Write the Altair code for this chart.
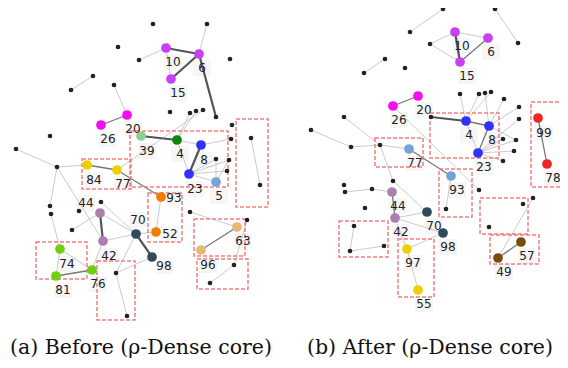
import altair as alt
import pandas as pd

# ---- node data (pixel layout positions) ----
node_keys = ["L10","L6","L15","L20","L26","L39","L4","L8","L23","L5","L84","L77","L93","L52",
             "L44","L42","L70","L98","L74","L81","L76","L63","L96",
             "R10","R6","R15","R20","R26","R4","R8","R23","R77","R93","R99","R78",
             "R44","R42","R70","R98","R97","R55","R57","R49"]
node_x = [166,199,171,127,101,141,177,201,189,216,87,117,161,156,
          100,103,136,152,60,56,92,237,201,
          455,488,460,418,393,466,489,478,409,451,538,547,
          392,395,427,443,407,418,521,498]
node_y = [48,54,79,115,125,136,140,145,174,182,165,170,197,232,
          213,241,234,257,249,276,270,227,250,
          32,38,62,96,106,121,126,153,149,176,118,164,
          192,218,212,233,249,290,242,258]
node_color = ["#c940f2","#c940f2","#c940f2","#f50cf0","#f50cf0","#8fcf8f","#0a8a0a","#3030ff","#3030ff","#74a3d8",
              "#eed000","#eed000","#f57c00","#f57c00",
              "#ad7fae","#ad7fae","#2f4a5a","#2f4a5a","#6fcf14","#6fcf14","#6fcf14","#e8b872","#e8b872",
              "#c940f2","#c940f2","#c940f2","#f50cf0","#f50cf0","#3030ff","#3030ff","#3030ff","#74a3d8","#74a3d8",
              "#f02424","#f02424","#ad7fae","#ad7fae","#2f4a5a","#2f4a5a","#eed000","#eed000","#7a4a0a","#7a4a0a"]
node_label = ["10","6","15","20","26","39","4","8","23","5","84","77","93","52",
              "44","42","70","98","74","81","76","63","96",
              "10","6","15","20","26","4","8","23","77","93","99","78",
              "44","42","70","98","97","55","57","49"]
label_x = [173,202,178,133,108,147,180,204,195,219,94,123,174,170,
           86,109,138,164,67,63,98,243,208,
           462,491,467,424,399,469,492,484,415,457,544,553,
           398,401,434,448,413,424,527,504]
label_y = [62,68,93,129,139,151,154,160,189,196,180,184,198,234,
           203,256,220,266,264,290,284,241,265,
           46,52,76,110,120,135,140,167,163,190,133,178,
           206,232,226,247,263,304,256,272]

dot_keys = ["a1","a2","a3","a4","a5","a6","a7","a8","a9","a10","a11","a12","a13","a14","a15","a16",
            "a17","a18","a19","a20","a21","a22","a23","a24","a25","a26","a27","a28","a29","a30",
            "a31","a32","a33","a34",
            "b1","b2","b3","b4","b5","b6","b7","b8","b9","b10","b11","b12","b13","b14","b15","b16",
            "b17","b18","b19","b20","b21","b22","b23","b24","b25","b26","b27","b28","b29","b30",
            "b31","b32","b33","b34","b35","b36","b37"]
dot_x = [153,207,118,139,230,93,71,114,216,170,190,196,203,50,16,57,
         232,231,251,216,229,227,260,101,79,72,50,51,116,127,
         190,247,234,210,
         443,410,495,518,430,385,364,405,344,311,351,380,431,460,479,485,
         491,504,519,519,503,516,514,503,446,479,344,345,372,393,
         365,354,350,384,523,489,533]
dot_y = [24,24,47,60,59,76,90,85,117,112,113,111,110,136,149,167,
         125,139,138,159,160,171,185,202,211,230,206,214,273,316,
         212,220,265,283,
         9,32,9,43,44,59,73,68,117,130,147,145,117,94,94,93,
         92,99,107,119,139,140,151,161,209,190,185,192,189,181,
         208,226,251,246,204,227,198]

# edges: (from, to, weight 0 thin / 1 medium / 2 thick)
edge_from = ["L10","L6","L10","L6","a2","a4","a6","a8","L20","L39","L4","L4","L8","L8","a12","a13","a11",
             "L23","L23","L23","L23","L5","L5","a19","a15","a16","L84","L77","a16","a28","a16",
             "L44","a24","a26","L44","L42","L42","L74","L74","L81","L70","L70","L93","L70","L98","a29",
             "a31","L63","a32","a33",
             "b1","b3","R10","R10","R6","b5","b5","b6","R20","b13","R4","R8","R4",
             "R4","R4","R4","R8","R8","R8","R23","R23","R23","R23","R23","R8","R99",
             "b9","b10","b11","b12","b12","R77","R93","R26","b28","b29","b30","R44","R42","R42","R42","R98","R97",
             "b32","b33","b37","R49"]
edge_to = ["L6","L15","L15","a9","L6","L10","a7","L20","L26","L4","L8","L23","L23","a18","L4","L77","L4",
           "a20","a21","a22","L5","a20","a21","a23","a16","L84","L77","L93","a27","L74","L42",
           "L42","L70","L44","L70","L70","L76","L81","L76","L76","L98","L52","L52","a29","a29","a30",
           "L63","L96","a33","a34",
           "b2","b4","R6","R15","R15","R10","R15","b7","R26","R4","R8","R23","R23",
           "b14","b15","b17","b16","b18","b19","b20","b21","b22","b23","b24","b22","R78",
           "b12","b11","b12","R77","b30","R93","b25","b26","b29","R44","R70","R42","R70","R98","R97","R97","R55",
           "b33","b34","R49","R57"]
edge_weight = [2,2,0,2,0,0,0,0,1,2,0,0,2,0,0,0,0,
               0,0,0,0,0,0,0,0,0,1,1,0,0,0,
               2,0,0,0,0,0,0,0,1,2,0,0,0,0,0,
               0,1,0,0,
               0,0,0,2,1,0,0,0,1,2,1,1,0,
               0,0,0,0,0,0,0,0,0,0,0,0,1,
               0,0,0,0,0,1,0,0,0,0,0,1,0,0,0,0,0,
               0,0,0,1]

# highlighted (dashed red) regions: x0, y0, x1, y1
box_x0 = [130,236,82,148,36,97,194,197, 430,531,375,439,480,490,339,398]
box_y0 = [131,119,159,193,242,261,219,259, 113,102,138,169,198,235,221,239]
box_x1 = [228,268,131,182,87,135,245,248, 499,563,423,472,528,539,388,434]
box_y1 = [187,207,189,242,279,320,256,289, 158,187,167,217,234,264,257,297]

captions = ["(a) Before (\u03c1-Dense core)", "(b) After (\u03c1-Dense core)"]
caption_x = [141, 430]
caption_y = [348, 348]

# ---- build tables ----
pos = {}
for k, x, y in zip(node_keys, node_x, node_y):
    pos[k] = (x, y)
for k, x, y in zip(dot_keys, dot_x, dot_y):
    pos[k] = (x, y)

width_map = {0: 0.8, 1: 1.3, 2: 2.2}
color_map = {0: "#bdbdbd", 1: "#777777", 2: "#555555"}
edges = pd.DataFrame({
    "x": [pos[a][0] for a in edge_from], "y": [pos[a][1] for a in edge_from],
    "x2": [pos[b][0] for b in edge_to], "y2": [pos[b][1] for b in edge_to],
    "w": [width_map[w] for w in edge_weight], "c": [color_map[w] for w in edge_weight],
    "o": edge_weight,
})
nodes = pd.DataFrame({"x": node_x, "y": node_y, "c": node_color})
labels = pd.DataFrame({"x": label_x, "y": label_y, "t": node_label})
dots = pd.DataFrame({"x": dot_x, "y": dot_y})
boxes = pd.DataFrame({"x": box_x0, "y": box_y0, "x2": box_x1, "y2": box_y1})
caps = pd.DataFrame({"x": caption_x, "y": caption_y, "t": captions})

X = alt.Scale(domain=[8, 560], nice=False, zero=False)
Y = alt.Scale(domain=[8, 360], nice=False, zero=False, reverse=True)
ax = dict(axis=None, scale=X)
ay = dict(axis=None, scale=Y)

edge_layer = alt.Chart(edges).mark_rule().encode(
    x=alt.X("x:Q", **ax), y=alt.Y("y:Q", **ay), x2="x2:Q", y2="y2:Q",
    color=alt.Color("c:N", scale=None), strokeWidth=alt.StrokeWidth("w:Q", scale=None),
    order="o:Q",
)
box_layer = alt.Chart(boxes).mark_rect(
    fill=None, stroke="#ef7070", strokeDash=[4, 2], strokeWidth=1.5, strokeOpacity=0.9
).encode(x=alt.X("x:Q", **ax), y=alt.Y("y:Q", **ay), x2="x2:Q", y2="y2:Q")
label_bg = alt.Chart(labels).mark_rect(color="#f6f6f6").encode(
    x=alt.X("xa:Q", **ax), x2="xb:Q", y=alt.Y("ya:Q", **ay), y2="yb:Q"
).transform_calculate(xa="datum.x - 9", xb="datum.x + 9", ya="datum.y - 8", yb="datum.y + 8")
dot_layer = alt.Chart(dots).mark_circle(size=22, color="#222222", opacity=1).encode(
    x=alt.X("x:Q", **ax), y=alt.Y("y:Q", **ay))
node_layer = alt.Chart(nodes).mark_circle(size=95, opacity=1).encode(
    x=alt.X("x:Q", **ax), y=alt.Y("y:Q", **ay), color=alt.Color("c:N", scale=None))
label_layer = alt.Chart(labels).mark_text(
    font="DejaVu Sans", fontSize=12, color="#222222", align="center", baseline="middle"
).encode(x=alt.X("x:Q", **ax), y=alt.Y("y:Q", **ay), text="t:N")
cap_layer = alt.Chart(caps).mark_text(
    font="DejaVu Serif", fontSize=20.5, color="#111111", align="center", baseline="middle"
).encode(x=alt.X("x:Q", **ax), y=alt.Y("y:Q", **ay), text="t:N")

chart = alt.layer(
    label_bg, edge_layer, box_layer, dot_layer, node_layer, label_layer, cap_layer
).properties(
    width=552, height=352, autosize=alt.AutoSizeParams(type="none"), padding=0
).configure_view(stroke=None)

chart.save("out.html", embed_options={"renderer": "svg", "actions": False})
